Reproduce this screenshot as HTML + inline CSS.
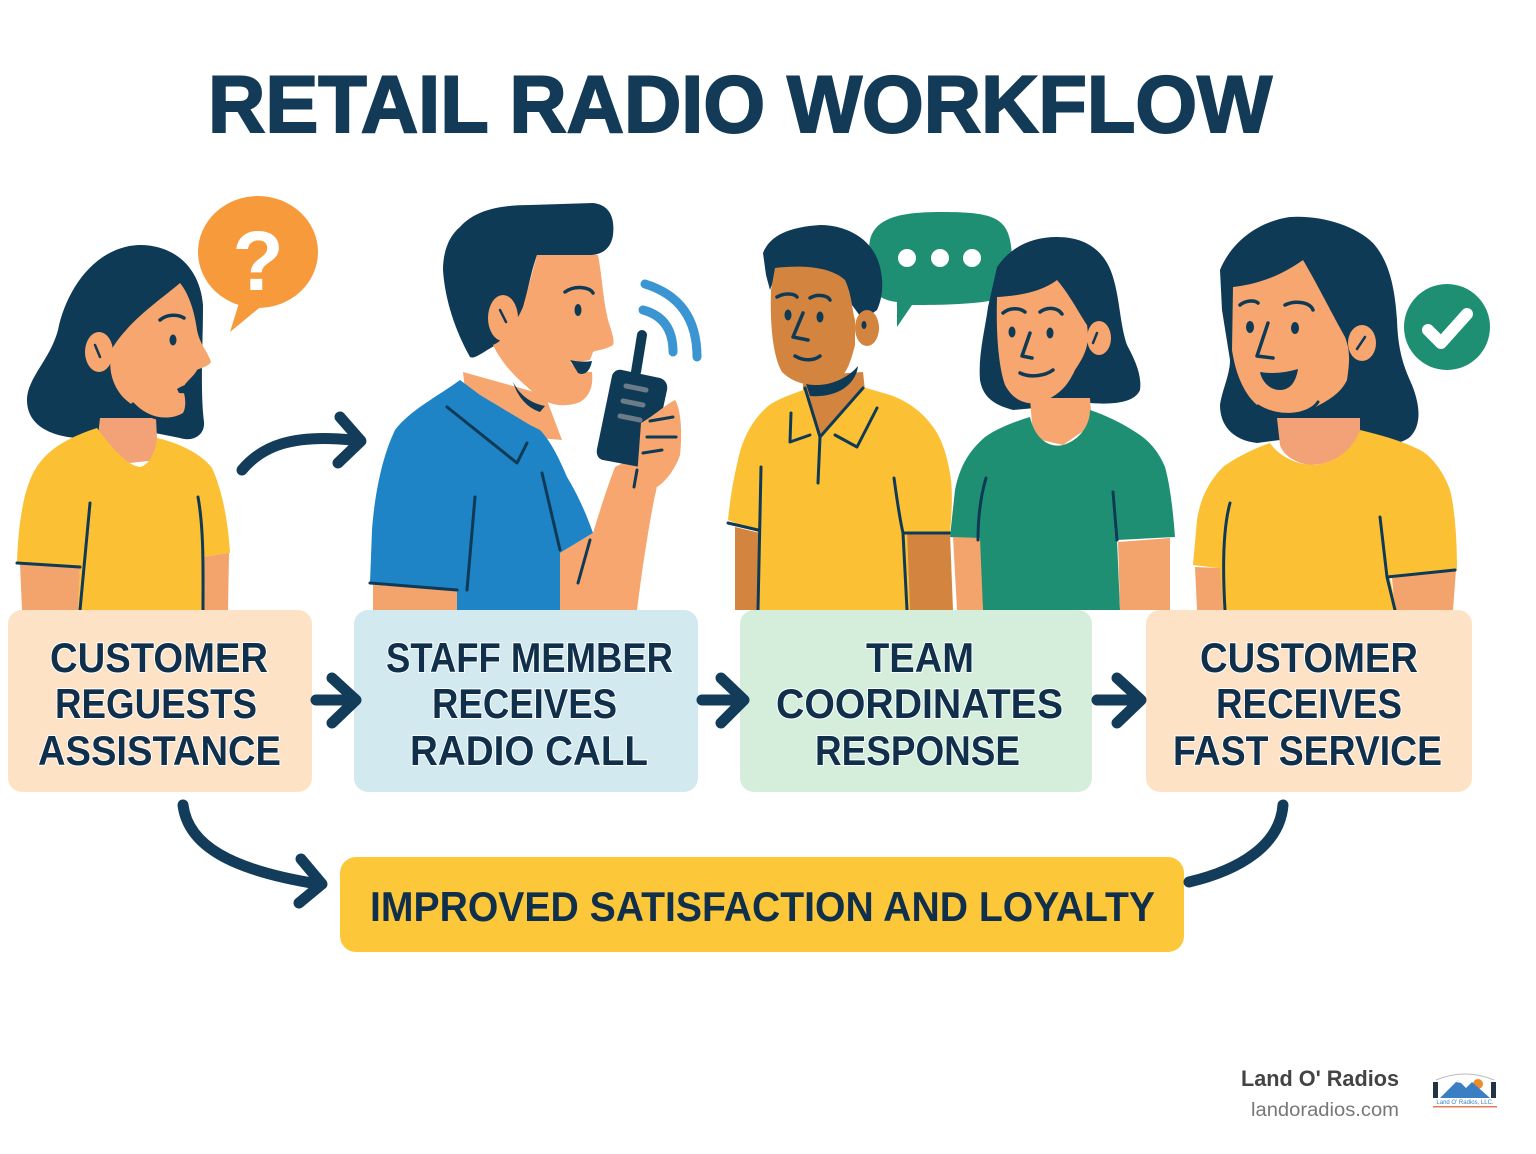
<!DOCTYPE html>
<html><head><meta charset="utf-8"><style>
html,body{margin:0;padding:0;background:#fff;}
svg{display:block;}
text{font-family:"Liberation Sans",Arial,sans-serif;font-weight:bold;}
</style></head><body>
<svg width="1536" height="1154" viewBox="0 0 1536 1154" xmlns="http://www.w3.org/2000/svg">
<rect width="1536" height="1154" fill="#fff"/>

<!-- Title -->
<text x="208" y="132" font-size="81" fill="#133a57" stroke="#133a57" stroke-width="2" textLength="1064" lengthAdjust="spacingAndGlyphs">RETAIL RADIO WORKFLOW</text>

<g stroke-linejoin="round" stroke-linecap="round">
<!-- ===== Person 1 ===== -->
<ellipse cx="258" cy="252" rx="60" ry="56" fill="#f79a3b"/>
<path d="M240,300 L230,332 L264,304 Z" fill="#f79a3b"/>
<text x="258" y="290" font-size="84" fill="#fff" text-anchor="middle">?</text>

<path d="M140,245 C175,245 200,268 203,305 C203,345 200,390 204,422 C205,436 192,442 180,438 L150,432 L100,440 L77,438 C50,436 27,425 27,400 C27,378 50,360 58,330 C66,290 95,246 140,245 Z" fill="#0f3a56"/>
<path d="M100,418 L156,418 L158,460 L120,464 L98,436 Z" fill="#f3a277"/>
<path d="M97,428 C110,445 125,465 140,467 C150,465 156,450 157,438 C175,442 200,452 212,468 C222,490 228,520 230,553 L203,557 L202,610 L78,610 L80,567 L17,563 C18,530 22,500 30,480 C40,455 60,440 97,428 Z" fill="#fbc034"/>
<path d="M20,563 L80,567 L78,610 L22,610 Z" fill="#f3a46c"/>
<path d="M203,557 L229,553 L228,610 L202,610 Z" fill="#f3a46c"/>
<path d="M90,503 L80,610 M198,497 C204,530 203,570 203,610 M17,563 L80,567" stroke="#0f3a56" stroke-width="3" fill="none"/>
<path d="M113,347 C130,320 160,300 180,283 C190,295 195,315 197,330 C200,345 208,352 211,362 C208,367 200,368 197,370 C193,378 183,383 183,390 C186,398 186,408 183,413 C172,420 150,420 133,405 C115,395 105,370 113,347 Z" fill="#f6a66e"/>
<ellipse cx="99" cy="352" rx="14" ry="20" fill="#f6a66e"/>
<path d="M95,345 L100,357" stroke="#0f3a56" stroke-width="2.5"/>
<ellipse cx="173" cy="340" rx="3.5" ry="5.5" fill="#0f3a56"/>
<path d="M160,320 C167,314 178,314 184,318" stroke="#0f3a56" stroke-width="3.5" fill="none"/>
<path d="M177,389 C184,384 192,383 198,386 C194,392 186,394 179,393 Z" fill="#0f3a56"/>
<path d="M133,404 C148,420 172,424 184,414" stroke="#0f3a56" stroke-width="3" fill="none"/>

<!-- top curved arrow -->
<path d="M242,470 C262,446 292,434 352,440" stroke="#123c5a" stroke-width="11" fill="none"/>
<path d="M340,417 L361,441 L338,463" stroke="#123c5a" stroke-width="11" fill="none"/>

<!-- ===== Person 2 ===== -->
<path d="M463,372 L545,395 L562,440 L470,432 Z" fill="#f6a66e"/>
<path d="M460,380 C440,395 410,410 395,430 C383,455 375,490 372,530 L370,583 L457,590 L457,610 L560,610 L560,553 L593,533 C585,510 575,490 567,477 C560,460 550,440 540,430 L530,425 L480,395 Z" fill="#1e84c6"/>
<path d="M373,585 L457,590 L457,610 L373,610 Z" fill="#f3a46c"/>
<path d="M560,553 L593,533 C600,510 608,485 615,467 L640,455 C655,465 660,480 655,495 C648,530 642,570 637,610 L560,610 Z" fill="#f6a66e"/>
<path d="M447,407 L517,463 L527,443 M475,497 L467,590 M542,473 L560,550 M370,583 L457,590 M590,540 L578,583" stroke="#0f3a56" stroke-width="3" fill="none"/>
<path d="M460,227 C475,210 500,205 530,205 L593,203 C610,205 615,218 613,235 C611,250 600,255 590,255 L537,255 C530,275 527,295 523,310 L500,343 C485,350 475,360 470,357 C455,330 445,300 443,270 C443,250 450,235 460,227 Z" fill="#0f3a56"/>
<path d="M537,255 L598,255 C602,275 603,300 608,320 C611,330 615,340 613,345 C605,350 597,350 593,352 L590,360 C580,362 575,362 570,360 C572,368 582,372 592,372 C593,382 592,395 580,402 C565,408 550,405 540,398 C525,385 505,370 493,345 C505,340 515,325 523,307 Z" fill="#f6a66e"/>
<ellipse cx="503" cy="318" rx="15" ry="23" fill="#f6a66e"/>
<path d="M500,310 L506,322" stroke="#0f3a56" stroke-width="2.5"/>
<ellipse cx="578" cy="310" rx="3.5" ry="6" fill="#0f3a56"/>
<path d="M565,292 C575,285 590,287 593,293" stroke="#0f3a56" stroke-width="3.5" fill="none"/>
<path d="M570,360 C578,362 586,362 592,361 C590,372 584,376 578,373 Z" fill="#0f3a56"/>
<path d="M513,382 C520,395 530,403 545,406 L540,412 C528,408 518,398 513,382 Z" fill="#0f3a56"/>
<!-- radio -->
<path d="M642,335 L636,372" stroke="#0f3a56" stroke-width="10" fill="none"/>
<path d="M622,370 L660,378 C666,380 668,385 667,390 L652,460 C651,466 646,468 640,467 L603,460 C598,459 596,454 597,449 L612,376 C613,372 617,369 622,370 Z" fill="#0f3a56"/>
<path d="M626,386 L646,390 M623,401 L643,405 M620,416 L640,420" stroke="#6b7b88" stroke-width="5" fill="none"/>
<path d="M637,477 L641,423 C655,415 665,405 675,400 C682,410 682,440 680,455 C675,470 665,482 657,487 Z" fill="#f6a66e"/>
<path d="M650,421 L673,417 M647,437 L676,437 M643,453 L662,450 M637,470 L634,487" stroke="#0f3a56" stroke-width="3" fill="none"/>
<path d="M643,310 Q673,318 673,352" stroke="#3b95d2" stroke-width="9" fill="none"/>
<path d="M645,284 Q697,300 697,357" stroke="#3b95d2" stroke-width="9" fill="none"/>

<!-- ===== Person 3 ===== -->
<path d="M870,240 C875,218 900,212 940,212 C985,212 1005,215 1010,240 C1015,265 1010,290 995,300 C970,305 930,305 912,305 L897,327 L897,302 C875,300 866,285 866,265 Z" fill="#1f8f74"/>
<ellipse cx="907" cy="258" rx="9" ry="9" fill="#fff"/>
<ellipse cx="940" cy="258" rx="9" ry="9" fill="#fff"/>
<ellipse cx="972" cy="258" rx="9" ry="9" fill="#fff"/>

<path d="M803,376 L863,372 L866,400 L803,400 Z" fill="#d3843f"/>
<path d="M803,390 C790,395 775,400 767,407 C752,420 742,440 738,460 C733,480 730,500 728,520 L760,533 L758,610 L910,610 L907,533 L950,533 C952,510 953,490 950,473 C946,450 940,435 930,423 C920,410 905,400 890,395 L863,387 Z" fill="#fbc034"/>
<path d="M805,388 L820,435 L862,387 Z" fill="#d3843f"/>
<path d="M735,527 L760,533 L758,610 L735,610 Z" fill="#d3843f"/>
<path d="M907,533 L950,533 L953,610 L910,610 Z" fill="#d3843f"/>
<path d="M805,388 L820,437 L863,388 M791,413 L790,442 L810,435 M877,408 L857,447 L835,435 M820,437 L818,483 M761,467 L758,610 M894,478 C897,500 900,520 903,533 L907,610 M728,523 L758,530 M903,533 L950,533" stroke="#0f3a56" stroke-width="3" fill="none"/>
<path d="M763,253 C770,235 790,227 820,225 C845,225 868,237 877,258 C884,275 884,295 877,310 L863,320 L852,305 L845,283 C830,272 800,270 775,276 L770,290 L766,275 Z" fill="#0f3a56"/>
<path d="M775,268 C800,265 830,266 845,280 C852,295 852,310 855,320 L855,345 C850,365 845,378 833,382 C815,388 795,385 782,372 C772,355 770,320 771,290 Z" fill="#d3843f"/>
<ellipse cx="867" cy="328" rx="12" ry="18" fill="#d3843f"/>
<ellipse cx="864" cy="325" rx="2.5" ry="4" fill="#0f3a56"/>
<path d="M806,384 C826,388 846,380 858,366 C856,384 838,398 810,396 Z" fill="#0f3a56"/>
<ellipse cx="788" cy="315" rx="3.5" ry="5.5" fill="#0f3a56"/>
<ellipse cx="820" cy="317" rx="3.5" ry="5.5" fill="#0f3a56"/>
<path d="M777,297 C785,292 795,294 797,297 M810,298 C818,293 828,296 830,300 M803,313 L793,337 L808,340 M795,356 C805,362 815,360 820,356" stroke="#0f3a56" stroke-width="3.5" fill="none"/>

<!-- ===== Person 4 ===== -->
<path d="M997,267 C1010,248 1030,237 1057,237 C1085,237 1105,250 1113,277 C1120,300 1120,325 1127,345 C1135,360 1142,375 1140,390 C1135,402 1115,405 1090,403 L1013,410 C995,405 983,398 980,380 C978,355 985,330 988,307 Z" fill="#0f3a56"/>
<path d="M1030,398 L1090,398 L1092,425 L1063,445 L1033,438 Z" fill="#f6a66e"/>
<path d="M1030,417 C1010,423 995,430 985,437 C970,450 960,465 955,490 L950,537 L977,540 L983,610 L1120,610 L1117,540 L1175,537 C1173,510 1170,485 1165,467 C1158,450 1148,440 1137,433 C1122,423 1105,415 1090,410 C1090,425 1080,440 1063,445 C1050,448 1035,440 1030,417 Z" fill="#1f8f74"/>
<path d="M953,537 L980,538 L983,610 L957,610 Z" fill="#f3a46c"/>
<path d="M1118,542 L1170,538 L1170,610 L1120,610 Z" fill="#f3a46c"/>
<path d="M986,478 C981,495 978,515 978,540 M1113,492 L1117,540" stroke="#0f3a56" stroke-width="3" fill="none"/>
<path d="M997,297 C1015,296 1040,293 1057,280 C1070,295 1080,315 1087,325 C1090,345 1085,355 1075,370 C1068,385 1060,395 1040,403 C1025,405 1013,400 1005,385 C998,365 996,330 997,297 Z" fill="#f6a66e"/>
<ellipse cx="1099" cy="338" rx="12" ry="17" fill="#f6a66e"/>
<path d="M1097,333 L1093,343" stroke="#0f3a56" stroke-width="2.5"/>
<ellipse cx="1012" cy="332" rx="3.5" ry="5.5" fill="#0f3a56"/>
<ellipse cx="1050" cy="333" rx="3.5" ry="5.5" fill="#0f3a56"/>
<path d="M1003,313 C1010,307 1020,308 1025,312 M1040,312 C1048,306 1058,308 1062,314 M1030,333 L1022,356 L1032,358 M1020,373 C1030,378 1045,376 1053,370" stroke="#0f3a56" stroke-width="3.5" fill="none"/>

<!-- ===== Person 5 ===== -->
<path d="M1220,270 C1230,245 1255,222 1290,217 C1320,215 1355,225 1373,243 C1390,262 1395,290 1397,320 C1398,350 1403,365 1412,385 C1420,405 1422,425 1410,437 C1400,445 1385,445 1370,440 L1280,440 L1257,443 C1232,440 1220,425 1220,405 C1222,390 1230,375 1230,360 L1222,310 Z" fill="#0f3a56"/>
<path d="M1277,418 L1360,418 L1360,440 C1345,455 1330,465 1310,465 C1295,463 1283,455 1280,445 Z" fill="#f3a277"/>
<path d="M1270,443 C1255,448 1235,458 1223,467 C1208,482 1200,500 1197,520 L1193,565 L1218,568 L1223,610 L1397,610 L1390,578 L1457,570 C1457,540 1455,510 1450,490 C1443,470 1430,455 1420,450 C1400,440 1380,435 1360,430 C1355,445 1340,462 1315,465 C1295,465 1278,455 1270,443 Z" fill="#fbc034"/>
<path d="M1195,567 L1220,568 L1223,610 L1197,610 Z" fill="#f3a46c"/>
<path d="M1392,578 L1456,570 L1453,610 L1395,610 Z" fill="#f3a46c"/>
<path d="M1230,503 C1224,525 1222,560 1225,610 M1380,517 L1387,577 L1395,610 M1387,577 L1455,570" stroke="#0f3a56" stroke-width="3" fill="none"/>
<path d="M1233,287 C1250,285 1275,280 1303,260 C1315,280 1330,310 1345,337 C1350,350 1350,360 1347,380 C1340,395 1325,402 1310,410 C1290,418 1270,415 1257,405 C1242,392 1235,370 1232,350 Z" fill="#f6a66e"/>
<ellipse cx="1362" cy="343" rx="14" ry="18" fill="#f6a66e"/>
<path d="M1365,337 L1357,349" stroke="#0f3a56" stroke-width="2.5"/>
<ellipse cx="1250" cy="327" rx="4" ry="6" fill="#0f3a56"/>
<ellipse cx="1295" cy="328" rx="4" ry="6" fill="#0f3a56"/>
<path d="M1240,305 C1246,300 1255,300 1258,303 M1285,305 C1295,300 1310,302 1313,310 M1268,323 L1257,356 L1273,358" stroke="#0f3a56" stroke-width="3.5" fill="none"/>
<path d="M1260,372 C1272,374 1285,373 1298,369 C1296,382 1290,390 1280,390 C1270,390 1262,382 1260,372 Z" fill="#0f3a56"/>
<path d="M1258,406 C1280,420 1310,415 1318,402" stroke="#0f3a56" stroke-width="3" fill="none"/>
<circle cx="1447" cy="327" r="43" fill="#1f8f74"/>
<path d="M1428,330 L1441,343 L1467,314" stroke="#fff" stroke-width="12" fill="none"/>
</g>

<!-- ===== Boxes ===== -->
<rect x="8" y="610" width="304" height="182" rx="14" fill="#fde2c6"/>
<rect x="354" y="610" width="344" height="182" rx="14" fill="#d3e9f0"/>
<rect x="740" y="610" width="352" height="182" rx="14" fill="#d4eedb"/>
<rect x="1146" y="610" width="326" height="182" rx="14" fill="#fde2c6"/>
<rect x="340" y="857" width="844" height="95" rx="16" fill="#fdc73a"/>

<g font-size="42" fill="#0f2f4a" stroke="#ffffff" stroke-width="2" paint-order="stroke">
<text x="50" y="672" textLength="218" lengthAdjust="spacingAndGlyphs">CUSTOMER</text>
<text x="55" y="718" textLength="202" lengthAdjust="spacingAndGlyphs">REGUESTS</text>
<text x="38" y="765" textLength="243" lengthAdjust="spacingAndGlyphs">ASSISTANCE</text>

<text x="386" y="672" textLength="287" lengthAdjust="spacingAndGlyphs">STAFF MEMBER</text>
<text x="432" y="718" textLength="185" lengthAdjust="spacingAndGlyphs">RECEIVES</text>
<text x="410" y="765" textLength="238" lengthAdjust="spacingAndGlyphs">RADIO CALL</text>

<text x="866" y="672" textLength="108" lengthAdjust="spacingAndGlyphs">TEAM</text>
<text x="776" y="718" textLength="287" lengthAdjust="spacingAndGlyphs">COORDINATES</text>
<text x="815" y="765" textLength="205" lengthAdjust="spacingAndGlyphs">RESPONSE</text>

<text x="1200" y="672" textLength="218" lengthAdjust="spacingAndGlyphs">CUSTOMER</text>
<text x="1216" y="718" textLength="186" lengthAdjust="spacingAndGlyphs">RECEIVES</text>
<text x="1173" y="765" textLength="269" lengthAdjust="spacingAndGlyphs">FAST SERVICE</text>
</g>
<text x="370" y="921" font-size="42" fill="#0f2f4a" textLength="785" lengthAdjust="spacingAndGlyphs">IMPROVED SATISFACTION AND LOYALTY</text>

<!-- connectors -->
<g stroke="#123c5a" stroke-width="11" fill="none" stroke-linecap="round" stroke-linejoin="round">
<path d="M316,700 L352,700"/>
<path d="M332,678 L356,700 L332,723"/>
<path d="M702,700 L740,700"/>
<path d="M721,678 L744,700 L721,723"/>
<path d="M1097,700 L1136,700"/>
<path d="M1117,678 L1141,700 L1117,723"/>
<path d="M183,805 C188,845 230,870 318,884"/>
<path d="M301,859 L322,884 L299,903"/>
<path d="M1283,805 C1280,845 1240,870 1189,882"/>
</g>

<!-- footer -->
<text x="1241" y="1086" font-size="22" fill="#444" textLength="158" lengthAdjust="spacingAndGlyphs">Land O' Radios</text>
<text x="1251" y="1116" font-size="19" style="font-weight:normal" fill="#777" textLength="148" lengthAdjust="spacingAndGlyphs">landoradios.com</text>
<g>
<path d="M1436,1080 Q1465,1068 1494,1080" stroke="#bbb" stroke-width="1" fill="none"/>
<circle cx="1478" cy="1084" r="5" fill="#f08a2a"/>
<path d="M1440,1098 L1458,1080 L1466,1088 L1472,1082 L1490,1098 Z" fill="#3a7fc4"/>
<path d="M1456,1082 L1458,1080 L1461,1083 Z" fill="#fff"/>
<rect x="1433" y="1082" width="5" height="16" fill="#234"/>
<rect x="1491" y="1082" width="5" height="16" fill="#234"/>
<text x="1465" y="1104" font-size="6" style="font-weight:normal" fill="#3a7fc4" text-anchor="middle">Land O' Radios, LLC.</text>
<rect x="1433" y="1106" width="64" height="1.5" fill="#e07a5a"/>
</g>
</svg>
</body></html>
